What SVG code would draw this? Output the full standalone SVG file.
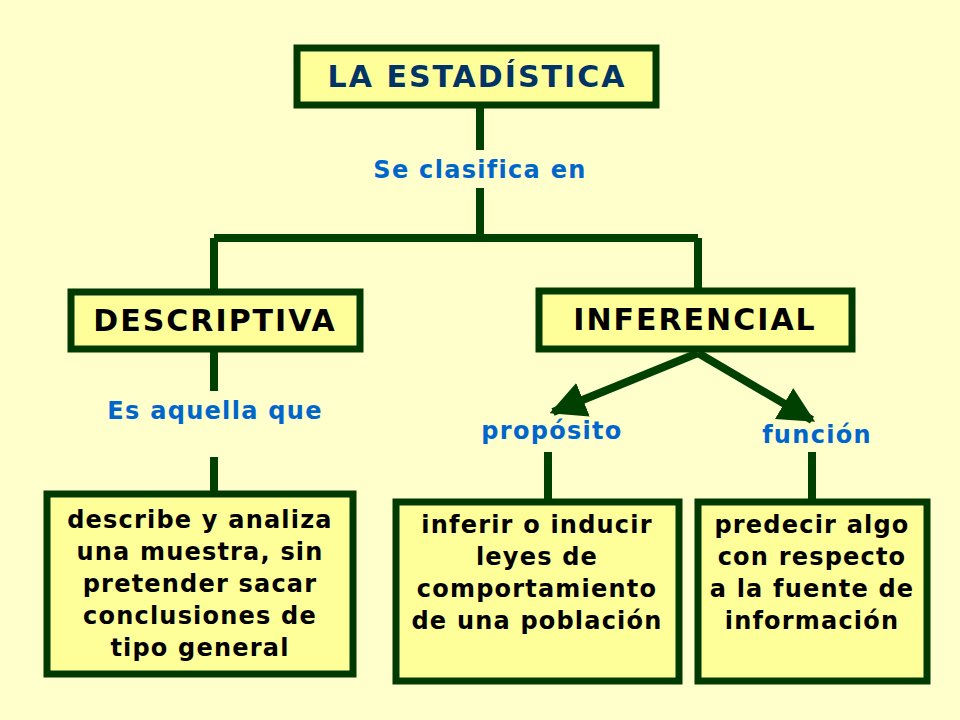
<svg xmlns="http://www.w3.org/2000/svg" width="960" height="720" viewBox="0 0 960 720">
<defs>
<style>
.box{fill:#FFFF99;stroke:#003A00;stroke-width:7}
.t{font-family:"DejaVu Sans",Verdana,sans-serif;font-weight:bold;fill:#000;text-anchor:middle}
.h{font-size:30px;letter-spacing:2px}
.ti{fill:#003366}
.b{font-size:24px;letter-spacing:1.2px}
.l{font-family:"DejaVu Sans",Verdana,sans-serif;font-weight:bold;fill:#0066CC;font-size:24px;letter-spacing:1.3px;text-anchor:middle}
.c{stroke:#004000;stroke-width:8;fill:none}
</style>
<marker id="ah" viewBox="0 0 10 10" refX="9" refY="5" markerWidth="4.5" markerHeight="4.5" orient="auto" markerUnits="strokeWidth">
<path d="M0,0L10,5L0,10z" fill="#004000"/>
</marker>
</defs>
<rect width="960" height="720" fill="#FFFFCC"/>
<g id="connectors">
<path class="c" d="M480,105V150M480,188V238M214,238H698M214,238V291M698,238V291M214,349V391M214,457V493M548,452V500M812,452V500"/>
<path class="c" d="M698,353L553,412" marker-end="url(#ah)"/>
<path class="c" d="M698,353L812,420" marker-end="url(#ah)"/>
</g>
<g id="lbl-clasifica"><text class="l" x="480" y="178">Se clasifica en</text></g>
<g id="lbl-aquella"><text class="l" x="215" y="419">Es aquella que</text></g>
<g id="lbl-proposito"><text class="l" x="552" y="439">propósito</text></g>
<g id="lbl-funcion"><text class="l" x="817" y="443">función</text></g>
<g id="n-estadistica"><rect class="box" x="297" y="48" width="359" height="57"/><text class="t h ti" x="477" y="87">LA ESTADÍSTICA</text></g>
<g id="n-descriptiva"><rect class="box" x="71" y="292" width="289" height="57"/><text class="t h" x="215" y="331">DESCRIPTIVA</text></g>
<g id="n-inferencial"><rect class="box" x="539" y="291" width="313" height="58"/><text class="t h" x="695" y="330">INFERENCIAL</text></g>
<g id="n-desc-def"><rect class="box" x="47" y="494" width="306" height="180"/>
<text class="t b"><tspan x="200" y="528">describe y analiza</tspan><tspan x="200" y="560">una muestra, sin</tspan><tspan x="200" y="592">pretender sacar</tspan><tspan x="200" y="624">conclusiones de</tspan><tspan x="200" y="656">tipo general</tspan></text></g>
<g id="n-proposito"><rect class="box" x="396" y="502" width="283" height="179"/>
<text class="t b"><tspan x="537" y="533">inferir o inducir</tspan><tspan x="537" y="565">leyes de</tspan><tspan x="537" y="597">comportamiento</tspan><tspan x="537" y="629">de una población</tspan></text></g>
<g id="n-funcion"><rect class="box" x="698" y="502" width="229" height="179"/>
<text class="t b"><tspan x="812" y="533">predecir algo</tspan><tspan x="812" y="565">con respecto</tspan><tspan x="812" y="597">a la fuente de</tspan><tspan x="812" y="629">información</tspan></text></g>
</svg>
